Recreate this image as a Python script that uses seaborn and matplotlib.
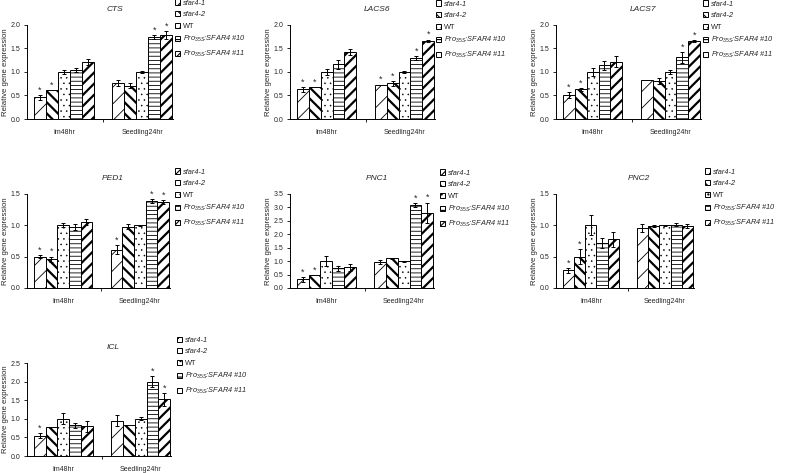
import numpy as np
import pandas as pd
import matplotlib
matplotlib.use("Agg")
import matplotlib.pyplot as plt
import seaborn as sns
from matplotlib.patches import Patch

# ---------------- data ----------------
stages = ["Im48hr", "Seedling24hr"]
genotypes = ["sfar4-1", "sfar4-2", "WT", "Pro35S:SFAR4 #10", "Pro35S:SFAR4 #11"]
genes = ["CTS", "LACS6", "LACS7", "PED1", "PNC1", "PNC2", "ICL"]

# order: Im48hr (5 genotypes), then Seedling24hr (5 genotypes)
cts_mean = [0.46, 0.62, 1.00, 1.04, 1.21, 0.76, 0.71, 1.00, 1.75, 1.79]
cts_err = [0.05, 0.00, 0.04, 0.05, 0.06, 0.06, 0.06, 0.02, 0.04, 0.08]
cts_sig = [1, 1, 0, 0, 0, 0, 0, 0, 1, 1]

lacs6_mean = [0.63, 0.68, 1.00, 1.16, 1.43, 0.73, 0.76, 1.00, 1.30, 1.66]
lacs6_err = [0.05, 0.00, 0.06, 0.10, 0.06, 0.00, 0.05, 0.03, 0.04, 0.03]
lacs6_sig = [1, 1, 0, 0, 0, 1, 1, 0, 1, 1]

lacs7_mean = [0.51, 0.63, 1.00, 1.14, 1.22, 0.83, 0.81, 1.00, 1.31, 1.66]
lacs7_err = [0.06, 0.03, 0.08, 0.10, 0.12, 0.00, 0.06, 0.04, 0.12, 0.02]
lacs7_sig = [1, 1, 0, 0, 0, 0, 0, 0, 1, 1]

ped1_mean = [0.50, 0.46, 1.00, 0.97, 1.05, 0.61, 0.98, 1.00, 1.39, 1.37]
ped1_err = [0.02, 0.04, 0.03, 0.05, 0.05, 0.07, 0.04, 0.01, 0.03, 0.03]
ped1_sig = [1, 1, 0, 0, 0, 1, 0, 0, 1, 1]

pnc1_mean = [0.32, 0.47, 1.00, 0.73, 0.77, 0.98, 1.10, 1.00, 3.10, 2.80]
pnc1_err = [0.08, 0.00, 0.18, 0.08, 0.13, 0.07, 0.03, 0.02, 0.07, 0.38]
pnc1_sig = [1, 1, 0, 0, 0, 0, 0, 0, 1, 1]

pnc2_mean = [0.28, 0.50, 1.00, 0.72, 0.78, 0.96, 0.99, 1.00, 1.01, 0.99]
pnc2_err = [0.04, 0.12, 0.16, 0.08, 0.12, 0.06, 0.02, 0.01, 0.02, 0.03]
pnc2_sig = [1, 1, 0, 0, 0, 0, 0, 0, 0, 0]

icl_mean = [0.55, 0.78, 1.00, 0.82, 0.80, 0.95, 0.84, 1.00, 2.00, 1.52]
icl_err = [0.07, 0.00, 0.15, 0.07, 0.15, 0.15, 0.00, 0.04, 0.15, 0.18]
icl_sig = [1, 0, 0, 0, 0, 0, 0, 0, 1, 1]

ymax = [2.0, 2.0, 2.0, 1.5, 3.5, 1.5, 2.5]

means = [cts_mean, lacs6_mean, lacs7_mean, ped1_mean, pnc1_mean, pnc2_mean, icl_mean]
errs = [cts_err, lacs6_err, lacs7_err, ped1_err, pnc1_err, pnc2_err, icl_err]
sigs = [cts_sig, lacs6_sig, lacs7_sig, ped1_sig, pnc1_sig, pnc2_sig, icl_sig]

# ---------------- style ----------------
sns.set_style("ticks")
plt.rcParams["font.family"] = ["Liberation Sans", "DejaVu Sans"]
plt.rcParams["mathtext.fontset"] = "custom"
plt.rcParams["mathtext.it"] = "Liberation Sans:italic"
plt.rcParams["mathtext.rm"] = "Liberation Sans"
plt.rcParams["hatch.linewidth"] = 0.8

W, H = 785, 473
fig = plt.figure(figsize=(W / 100, H / 100), dpi=100)

# panel boxes in pixels: left, top, right, bottom
boxes = [
    (27, 25, 173, 119), (290, 25, 435, 119), (556, 25, 701, 119),
    (27, 194, 170, 288), (290, 194, 434, 288), (556, 194, 694, 288),
    (27, 363, 171, 456),
]
# legend: handle left x, first-entry centre y (pixels)
legend_pos = [(175, 4), (436, 5), (703, 5), (175, 173), (440, 174), (705, 173), (177, 341)]

hatches = ["//", "\\\\\\", "...", "----", "///"]
hatch_lw = [0.6, 1.6, 0.35, 0.6, 1.6]
legend_labels = [
    "sfar4-1", "sfar4-2", "WT",
    r"$\mathit{Pro}_{\mathit{35S}}$:SFAR4 #10",
    r"$\mathit{Pro}_{\mathit{35S}}$:SFAR4 #11",
]

for gi, gene in enumerate(genes):
    l, t, r, b = boxes[gi]
    ax = fig.add_axes([l / W, 1 - b / H, (r - l) / W, (b - t) / H])
    rows = []
    for si, st in enumerate(stages):
        for k, g in enumerate(genotypes):
            rows.append({"stage": st, "genotype": g,
                         "value": means[gi][si * 5 + k],
                         "err": errs[gi][si * 5 + k],
                         "sig": sigs[gi][si * 5 + k]})
    df = pd.DataFrame(rows)
    sns.barplot(data=df, x="stage", y="value", hue="genotype",
                order=stages, hue_order=genotypes,
                palette=["white"] * 5, saturation=1, edgecolor="black",
                linewidth=0.7, width=0.76, errorbar=None, legend=False, ax=ax)
    bar_conts = list(ax.containers)
    lefts, rights = [], []
    for k, cont in enumerate(bar_conts):
        for si, p in enumerate(cont.patches):
            p.set_hatch(hatches[k])
            if hasattr(p, "set_hatch_linewidth"):
                p.set_hatch_linewidth(hatch_lw[k])
            lefts.append(p.get_x())
            rights.append(p.get_x() + p.get_width())
            row = df[(df.genotype == genotypes[k]) & (df.stage == stages[si])].iloc[0]
            cx = p.get_x() + p.get_width() / 2
            h = p.get_height()
            e = row["err"]
            if e > 0:
                ax.errorbar(cx, h, yerr=e, fmt="none", ecolor="black",
                            elinewidth=0.7, capsize=1.5, capthick=0.7)
            if row["sig"]:
                ax.text(cx, h + e + 0.005 * ymax[gi], "*", ha="center", va="bottom",
                        fontsize=6.5)

    ax.set_xlim(min(lefts) - 0.09, max(rights) + 0.012)
    ax.set_ylim(0, ymax[gi])
    ticks = np.arange(0, ymax[gi] + 0.01, 0.5)
    ax.set_yticks(ticks)
    ax.set_yticklabels([f"{v:.1f}" for v in ticks])
    ax.set_xticks([0.5])
    ax.set_xticklabels([""])
    ax.set_xticks([0, 1], minor=True)
    ax.set_xticklabels(stages, minor=True)
    ax.tick_params(axis="x", which="major", length=2.5, width=0.7, direction="out")
    ax.tick_params(axis="x", which="minor", length=0, pad=7, labelsize=5)
    ax.tick_params(axis="y", length=2.5, width=0.7, labelsize=5, pad=2.5)
    for s in ["top", "right"]:
        ax.spines[s].set_visible(False)
    for s in ["left", "bottom"]:
        ax.spines[s].set_linewidth(0.7)
        ax.spines[s].set_color("black")
    ax.set_xlabel("")
    ax.set_ylabel("Relative gene expression", fontsize=5.6)
    ax.yaxis.set_label_coords(-18 / (r - l), 0.5)
    ax.text(0.6, 1 + 15.5 / (b - t), gene, transform=ax.transAxes, ha="center",
            va="center", fontsize=6, fontstyle="italic")

    handles = []
    for k in range(5):
        hp = Patch(facecolor="white", edgecolor="black", hatch=hatches[k], linewidth=0.7)
        if hasattr(hp, "set_hatch_linewidth"):
            hp.set_hatch_linewidth(hatch_lw[k])
        handles.append(hp)
    lx, ly = legend_pos[gi]
    leg = ax.legend(handles, legend_labels, loc="upper left",
                    bbox_to_anchor=(lx / W, 1 - (ly - 4.5) / H), bbox_transform=fig.transFigure,
                    frameon=False, fontsize=5.3, handlelength=0.7, handleheight=0.7,
                    handletextpad=0.4, labelspacing=0.6, borderpad=0, borderaxespad=0)
    for k, txt in enumerate(leg.get_texts()):
        if k != 2:
            txt.set_fontstyle("italic")

fig.savefig("out.png", dpi=100)
